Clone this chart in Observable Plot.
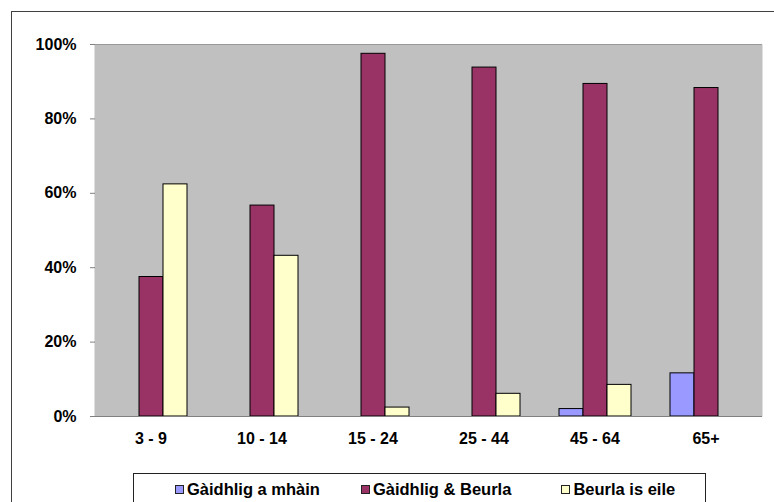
<!DOCTYPE html>
<html>
<head>
<meta charset="utf-8">
<script src="https://cdn.jsdelivr.net/npm/d3@7"></script>
<script src="https://cdn.jsdelivr.net/npm/@observablehq/plot@0.6"></script>
<style>
  html, body { margin: 0; padding: 0; background: #fff; overflow: hidden; }
  body { width: 774px; height: 502px; position: relative; font-family: "Liberation Sans", Arial, sans-serif; }
  #outer { position: absolute; left: 11px; top: 11px; width: 800px; height: 560px; border: 1px solid #404040; box-sizing: border-box; }
  #chart { position: absolute; left: 0; top: 0; }
  #legend { position: absolute; left: 133px; top: 473px; width: 573px; height: 60px; border: 1px solid #222; box-sizing: border-box;
            display: flex; align-items: flex-start; padding-left: 41px; padding-top: 6px; gap: 0; font-weight: bold; font-size: 16.5px; color: #000; }
  .item { display: flex; align-items: center; white-space: nowrap; }
  .sw { width: 7px; height: 7px; border: 1px solid #222; margin-right: 3px; }
</style>
</head>
<body>
<div id="outer"></div>
<div id="chart"></div>
<div id="legend"></div>
<script>
const groups = ["3 - 9", "10 - 14", "15 - 24", "25 - 44", "45 - 64", "65+"];
const series = ["Gàidhlig a mhàin", "Gàidhlig & Beurla", "Beurla is eile"];
const gaidhligOnly = [0, 0, 0, 0, 2.0, 11.6];
const gaidhligBeurla = [37.5, 56.7, 97.5, 93.8, 89.4, 88.3];
const beurlaOther = [62.4, 43.2, 2.4, 6.1, 8.5, 0];
const colors = ["#9999FF", "#993366", "#FFFFCC"];
const yTicks = [0, 20, 40, 60, 80, 100];

const values = [gaidhligOnly, gaidhligBeurla, beurlaOther];
const rows = groups.flatMap((g, i) => series.map((s, j) => ({group: g, series: s, value: values[j][i]})))
  .filter(d => d.value > 0);

const W = 774, H = 473, ml = 95, mr = 13, mt = 44, mb = 57;
const step = (W - ml - mr) / groups.length;
const axisGray = "#808080";

const chart = Plot.plot({
  width: W, height: H,
  marginLeft: ml, marginRight: mr, marginTop: mt, marginBottom: mb,
  style: {fontFamily: "'Liberation Sans', Arial, sans-serif", fontSize: "16px", fontWeight: "bold", color: "#000", background: "transparent"},
  fx: {domain: groups, padding: 0, label: null},
  x: {domain: series, paddingInner: 0, paddingOuter: 0.765, axis: null},
  y: {domain: [0, 100], label: null},
  color: {domain: series, range: colors},
  marks: [
    Plot.frame({fill: "#c0c0c0", stroke: null, insetLeft: -1, insetRight: -1}),
    Plot.ruleY([100], {stroke: "#999", insetLeft: -1, insetRight: -1}),
    Plot.barY(rows, {fx: "group", x: "series", y: "value", fill: "series", stroke: "#000", strokeWidth: 1}),
    Plot.ruleY([0], {stroke: axisGray, insetLeft: -1, insetRight: -1}),
    // category boundary ticks below the axis
    Plot.ruleX(groups, {fx: d => d, y1: 0, y2: 0, insetBottom: -5, dx: -step / 2, stroke: "#666"}),
    Plot.ruleX(groups.slice(-1), {fx: d => d, y1: 0, y2: 0, insetBottom: -5, dx: step / 2, stroke: "#666"}),
    // plot-area left and right edges
    Plot.ruleX(groups.slice(0, 1), {fx: d => d, y1: 0, y2: 100, dx: -step / 2, stroke: axisGray}),
    Plot.ruleX(groups.slice(-1), {fx: d => d, y1: 0, y2: 100, dx: step / 2, stroke: axisGray, strokeWidth: 2}),
    Plot.axisY({ticks: yTicks, tickFormat: d => d + "%", tickSize: 5, tickPadding: 14, stroke: axisGray, fill: "#000", label: null}),
    Plot.axisFx({tickSize: 0, tickPadding: 16, label: null, anchor: "bottom", fill: "#000"})
  ]
});
document.getElementById("chart").appendChild(chart);

const legend = document.getElementById("legend");
const gaps = [41, 50, 0];
series.forEach((s, j) => {
  const item = document.createElement("div");
  item.className = "item";
  item.style.marginRight = gaps[j] + "px";
  const sw = document.createElement("div");
  sw.className = "sw";
  sw.style.background = colors[j];
  const t = document.createElement("span");
  t.textContent = s;
  item.appendChild(sw);
  item.appendChild(t);
  legend.appendChild(item);
});
</script>
</body>
</html>
